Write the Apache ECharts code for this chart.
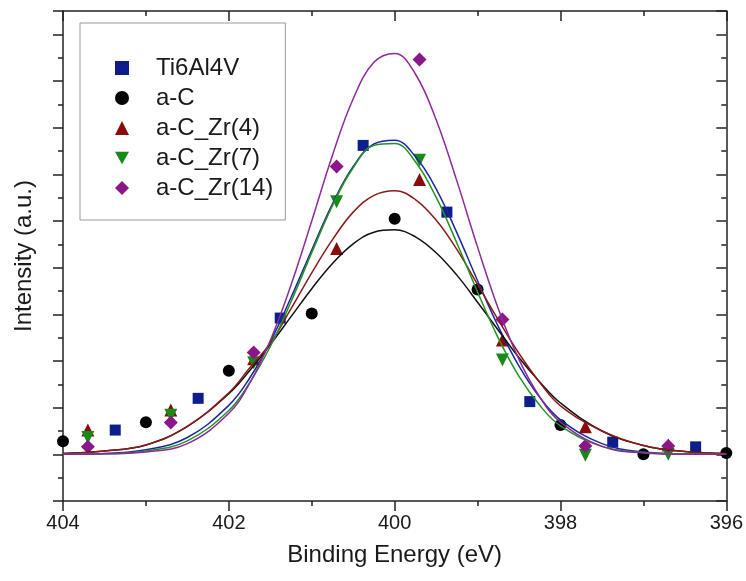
<!DOCTYPE html>
<html>
<head>
<meta charset="utf-8">
<script src="https://cdn.jsdelivr.net/npm/echarts@6/dist/echarts.min.js"></script>
<style>
  html, body { margin: 0; padding: 0; background: #fff; }
  #chart { width: 746px; height: 581px; }
</style>
</head>
<body>
<div id="chart"></div>
<script>
  // measured points
  const tiX = [403.37, 402.37, 401.38, 400.38, 399.37, 398.37, 397.37, 396.37];
  const tiY = [0.52, 1.20, 2.92, 6.62, 5.19, 1.13, 0.26, 0.16];
  const acX = [404, 403, 402, 401, 400, 399, 398, 397, 396];
  const acY = [0.28, 0.69, 1.79, 3.02, 5.05, 3.53, 0.63, 0.0, 0.03];
  const zrX = [403.7, 402.7, 401.7, 400.7, 399.7, 398.7, 397.7, 396.7];
  const zr4Y = [0.52, 0.95, 2.05, 4.41, 5.89, 2.45, 0.59, 0.20];
  const zr7Y = [0.36, 0.84, 1.96, 5.41, 6.30, 2.02, -0.02, 0.0];
  const zr14Y = [0.16, 0.68, 2.18, 6.17, 8.46, 2.89, 0.18, 0.18];

  // fitted curves
  const fitX = [404, 403.5, 403, 402.5, 402, 401.75, 401.5, 401.25, 401, 400.75, 400.5, 400.25, 400,
                399.75, 399.5, 399.25, 399, 398.75, 398.5, 398.25, 398, 397.5, 397, 396.5, 396];
  const fitTi = [0.0, 0.02, 0.10, 0.36, 1.05, 1.63, 2.41, 3.36, 4.38, 5.37, 6.17, 6.65, 6.73,
                 6.38, 5.69, 4.75, 3.72, 2.74, 1.89, 1.22, 0.74, 0.23, 0.05, 0.01, 0.0];
  const fitAc = [0.02, 0.07, 0.20, 0.60, 1.30, 1.79, 2.35, 2.95, 3.55, 4.09, 4.51, 4.76, 4.81,
                 4.66, 4.32, 3.84, 3.26, 2.66, 2.07, 1.55, 1.10, 0.50, 0.19, 0.06, 0.02];
  const fitZr4 = [0.02, 0.07, 0.20, 0.60, 1.32, 1.85, 2.38, 3.12, 3.89, 4.60, 5.19, 5.55, 5.65,
                  5.46, 5.02, 4.39, 3.64, 2.88, 2.16, 1.54, 1.04, 0.50, 0.19, 0.06, 0.02];
  const fitZr7 = [0.0, 0.01, 0.07, 0.29, 0.94, 1.53, 2.31, 3.27, 4.32, 5.33, 6.14, 6.62, 6.66,
                  6.27, 5.51, 4.53, 3.48, 2.49, 1.67, 1.05, 0.61, 0.17, 0.04, 0.01, 0.0];
  const fitZr14 = [0.0, 0.01, 0.05, 0.23, 0.88, 1.52, 2.44, 3.63, 5.00, 6.41, 7.62, 8.40, 8.59,
                   8.15, 7.17, 5.86, 4.44, 3.12, 2.03, 1.23, 0.69, 0.17, 0.03, 0.0, 0.0];

  const names = ['Ti6Al4V', 'a-C', 'a-C_Zr(4)', 'a-C_Zr(7)', 'a-C_Zr(14)'];
  const colors = ['#0d1d8c', '#000000', '#8b0b0b', '#178a17', '#8a178a'];
  const lineColors = ['#1a28a0', '#111111', '#8b1a1a', '#249124', '#8c2a9a'];

  const pairs = (xs, ys) => xs.map((x, i) => [x, ys[i]]);
  const fonts = '"Liberation Sans", Arial, sans-serif';

  const chart = echarts.init(document.getElementById('chart'));

  const axisLine = { show: true, onZero: false, lineStyle: { color: '#222', width: 1.5 } };
  const tickStyle = { color: '#222', width: 1.5 };

  const scatter = (i, xs, ys, symbol, size) => ({
    name: names[i], type: 'scatter', data: pairs(xs, ys),
    symbol: symbol, symbolSize: size, z: 2,
    itemStyle: { color: colors[i], opacity: 1 }
  });
  const fit = (i, ys) => ({
    name: names[i] + ' fit', type: 'line', data: pairs(fitX, ys),
    smooth: 0.4, showSymbol: false, z: 3, silent: true,
    lineStyle: { color: lineColors[i], width: 1.5 }
  });

  const option = {
    backgroundColor: '#fff',
    animation: false,
    grid: { left: 63, right: 19, top: 11, bottom: 80 },
    legend: {
      data: names,
      orient: 'vertical',
      left: 80, top: 23,
      padding: [33, 12, 20, 35],
      itemWidth: 14, itemHeight: 14, itemGap: 6,
      borderColor: '#999', borderWidth: 1,
      itemStyle: { opacity: 1 },
      textStyle: { fontFamily: fonts, fontSize: 24, lineHeight: 22, color: '#1a1a1a', padding: [0, 0, 0, 22] }
    },
    xAxis: [
      {
        type: 'value', min: 396, max: 404, interval: 2, inverse: true,
        axisLine: axisLine,
        axisTick: { length: 10, lineStyle: tickStyle },
        minorTick: { show: true, splitNumber: 2, length: 5, lineStyle: tickStyle },
        splitLine: { show: false },
        axisLabel: { fontFamily: fonts, fontSize: 20, color: '#1a1a1a', margin: 12 },
        name: 'Binding Energy (eV)', nameLocation: 'middle', nameGap: 42,
        nameTextStyle: { fontFamily: fonts, fontSize: 24, color: '#1a1a1a' }
      },
      {
        type: 'value', position: 'top', min: 396, max: 404, interval: 2, inverse: true,
        axisLine: axisLine,
        axisTick: { inside: true, length: 10, lineStyle: tickStyle },
        minorTick: { show: true, splitNumber: 2, length: 5, lineStyle: tickStyle },
        splitLine: { show: false },
        axisLabel: { show: false }
      }
    ],
    yAxis: [
      {
        type: 'value', min: -1, max: 9.5, interval: 1,
        axisLine: axisLine,
        axisTick: { length: 10, lineStyle: tickStyle },
        minorTick: { show: true, splitNumber: 2, length: 5, lineStyle: tickStyle },
        splitLine: { show: false },
        axisLabel: { show: false },
        name: 'Intensity (a.u.)', nameLocation: 'middle', nameGap: 27,
        nameTextStyle: { fontFamily: fonts, fontSize: 24, color: '#1a1a1a' }
      },
      {
        type: 'value', position: 'right', min: -1, max: 9.5, interval: 1,
        axisLine: axisLine,
        axisTick: { inside: true, length: 10, lineStyle: tickStyle },
        minorTick: { show: true, splitNumber: 2, length: 5, lineStyle: tickStyle },
        splitLine: { show: false },
        axisLabel: { show: false }
      }
    ],
    series: [
      scatter(0, tiX, tiY, 'rect', 11),
      scatter(1, acX, acY, 'circle', 12),
      scatter(2, zrX, zr4Y, 'triangle', 13),
      scatter(3, zrX, zr7Y, 'path://M0,0 L10,0 L5,9 Z', 13),
      scatter(4, zrX, zr14Y, 'diamond', 14),
      fit(0, fitTi),
      fit(1, fitAc),
      fit(2, fitZr4),
      fit(3, fitZr7),
      fit(4, fitZr14)
    ]
  };
  chart.setOption(option);
  window.addEventListener('resize', function () {
    chart.resize();
  });
</script>
</body>
</html>
